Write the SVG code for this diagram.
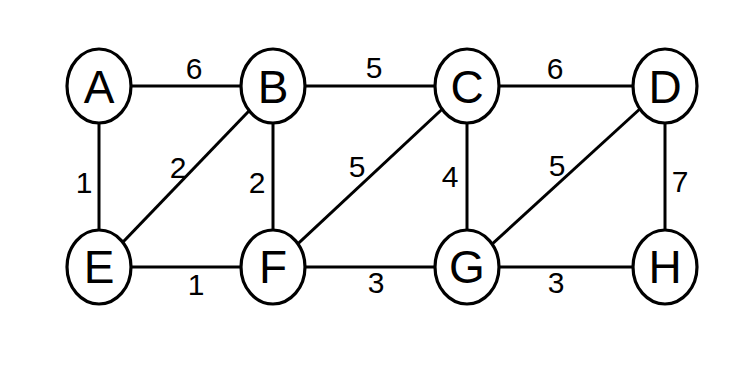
<svg xmlns="http://www.w3.org/2000/svg" width="753" height="372" viewBox="0 0 753 372">
<style>
.edge{stroke:#000;stroke-width:3;fill:none}
.node ellipse{fill:#fff;stroke:#000;stroke-width:3.2}
.node text{font-family:"Liberation Sans",Arial,sans-serif;font-size:46px;text-anchor:middle;fill:#000}
.w{font-family:"Liberation Sans",Arial,sans-serif;font-size:30px;text-anchor:middle;fill:#000}
</style>
<rect width="753" height="372" fill="#fff"/>
<g id="edges">
<line class="edge" x1="99" y1="86" x2="273" y2="86"/>
<line class="edge" x1="273" y1="86" x2="467" y2="86"/>
<line class="edge" x1="467" y1="86" x2="665" y2="86"/>
<line class="edge" x1="99" y1="267" x2="273" y2="267"/>
<line class="edge" x1="273" y1="267" x2="467" y2="267"/>
<line class="edge" x1="467" y1="267" x2="665" y2="267"/>
<line class="edge" x1="99" y1="86" x2="99" y2="267"/>
<line class="edge" x1="273" y1="86" x2="273" y2="267"/>
<line class="edge" x1="467" y1="86" x2="467" y2="267"/>
<line class="edge" x1="665" y1="86" x2="665" y2="267"/>
<line class="edge" x1="99" y1="267" x2="273" y2="86"/>
<line class="edge" x1="273" y1="267" x2="467" y2="86"/>
<line class="edge" x1="467" y1="267" x2="665" y2="86"/>
<text class="w" x="194" y="79">6</text>
<text class="w" x="374" y="78">5</text>
<text class="w" x="555" y="79">6</text>
<text class="w" x="84" y="193">1</text>
<text class="w" x="178" y="178">2</text>
<text class="w" x="257" y="193">2</text>
<text class="w" x="357" y="177">5</text>
<text class="w" x="450" y="187">4</text>
<text class="w" x="557" y="176">5</text>
<text class="w" x="680" y="192">7</text>
<text class="w" x="196" y="295">1</text>
<text class="w" x="376" y="293">3</text>
<text class="w" x="556" y="293">3</text>
</g>
<g id="A" class="node"><ellipse cx="99" cy="86" rx="32" ry="37"/><text x="99" y="103">A</text></g>
<g id="B" class="node"><ellipse cx="273" cy="86" rx="32" ry="37"/><text x="273" y="103">B</text></g>
<g id="C" class="node"><ellipse cx="467" cy="86" rx="32" ry="37"/><text x="467" y="103">C</text></g>
<g id="D" class="node"><ellipse cx="665" cy="86" rx="32" ry="37"/><text x="665" y="103">D</text></g>
<g id="E" class="node"><ellipse cx="99" cy="267" rx="32" ry="37"/><text x="99" y="283">E</text></g>
<g id="F" class="node"><ellipse cx="273" cy="267" rx="32" ry="37"/><text x="273" y="283">F</text></g>
<g id="G" class="node"><ellipse cx="467" cy="267" rx="32" ry="37"/><text x="467" y="283">G</text></g>
<g id="H" class="node"><ellipse cx="665" cy="267" rx="32" ry="37"/><text x="665" y="283">H</text></g>
</svg>
